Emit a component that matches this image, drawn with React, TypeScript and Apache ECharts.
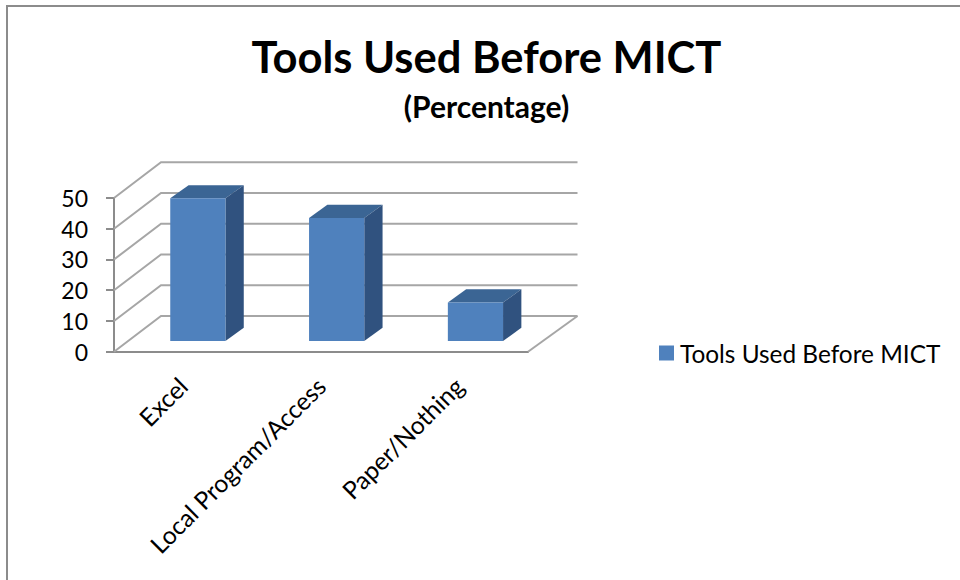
import React, { useEffect, useRef } from "react";
import * as echarts from "echarts";

const titleText = "Tools Used Before MICT";
const subtitleText = "(Percentage)";
const seriesName = "Tools Used Before MICT";
const categories = ["Excel", "Local Program/Access", "Paper/Nothing"];
const values = [46.4, 40, 12.5];
const valueTicks = [0, 10, 20, 30, 40, 50];

const FONT = "Lato, 'Noto Sans', sans-serif";
const FRONT = "#4f81bd";
const TOP = "#3b6594";
const SIDE = "#30527f";
const AXIS = "#8c8c8c";
const GRID = "#a6a6a6";
const DX = 49.5;
const DY = -35.7;
const BAR_FRONT = 0.3;
const BAR_DEPTH = 0.37;

export default function App() {
  const ref = useRef<HTMLDivElement>(null);
  useEffect(() => {
    document.body.style.margin = "0";
    const chart = echarts.init(ref.current!, undefined, { renderer: "svg" });
    chart.setOption({
      animation: false,
      backgroundColor: "#ffffff",
      title: {
        text: titleText,
        subtext: subtitleText,
        left: 481.5,
        top: 29,
        textAlign: "center",
        itemGap: 13,
        textStyle: { fontFamily: FONT, fontWeight: 700, fontSize: 43.5, color: "#000" },
        subtextStyle: { fontFamily: FONT, fontWeight: 700, fontSize: 30, color: "#000" },
      },
      legend: {
        data: [seriesName],
        left: 659,
        top: 341,
        itemWidth: 15,
        itemHeight: 15,
        itemGap: 0,
        icon: "rect",
        padding: 0,
        textStyle: { fontFamily: FONT, fontSize: 24.4, color: "#000", padding: [0, 0, 0, 1] },
      },
      grid: { left: 114, top: 198, width: 414, height: 153.7 },
      xAxis: {
        type: "category",
        data: categories,
        axisLine: { lineStyle: { color: AXIS, width: 2 } },
        axisTick: { length: 7, lineStyle: { color: AXIS, width: 2 } },
        axisLabel: {
          interval: 0,
          rotate: 45,
          margin: 30,
          fontFamily: FONT,
          fontSize: 24.6,
          color: "#000",
        },
      },
      yAxis: {
        type: "value",
        min: valueTicks[0],
        max: valueTicks[valueTicks.length - 1],
        interval: 10,
        splitLine: { show: false },
        axisLine: { show: true, lineStyle: { color: AXIS, width: 2 } },
        axisTick: { show: true, length: 8, lineStyle: { color: AXIS, width: 2 } },
        axisLabel: { margin: 26, fontFamily: FONT, fontSize: 23, color: "#000" },
      },
      series: [
        {
          type: "custom",
          name: "walls",
          silent: true,
          clip: false,
          z: 1,
          data: valueTicks.map((v) => [0, v]),
          encode: { x: 0, y: 1 },
          renderItem: (params: any, api: any) => {
            const cs = params.coordSys;
            const y = api.coord([0, api.value(1)])[1];
            const x0 = cs.x;
            const x1 = cs.x + cs.width;
            const children: any[] = [
              {
                type: "polyline",
                shape: {
                  points: [
                    [x0, y],
                    [x0 + 47, y + DY],
                    [x1 + DX, y + DY],
                  ],
                },
                style: { fill: "none", stroke: GRID, lineWidth: 2 },
              },
            ];
            if (api.value(1) === 0) {
              children.push({
                type: "line",
                shape: { x1, y1: y, x2: x1 + DX, y2: y + DY },
                style: { stroke: GRID, lineWidth: 2 },
              });
            }
            return { type: "group", children };
          },
        },
        {
          type: "custom",
          name: seriesName,
          clip: false,
          z: 2,
          itemStyle: { color: FRONT },
          data: values.map((v, i) => [i, v]),
          encode: { x: 0, y: 1 },
          renderItem: (_params: any, api: any) => {
            const top = api.coord([api.value(0), api.value(1)]);
            const base = api.coord([api.value(0), 0]);
            const w = api.size([1, 0])[0] * 0.4;
            const fx = top[0] - w / 2 + DX * BAR_FRONT + api.value(0) * 0.8;
            const fy = DY * BAR_FRONT;
            const l = fx;
            const r = fx + w;
            const t = top[1] + fy;
            const b = base[1] + fy;
            const ox = DX * BAR_DEPTH;
            const oy = DY * BAR_DEPTH;
            return {
              type: "group",
              children: [
                {
                  type: "polygon",
                  shape: { points: [[l, t], [r, t], [r + ox, t + oy], [l + ox, t + oy]] },
                  style: { fill: TOP },
                },
                {
                  type: "polygon",
                  shape: { points: [[r, t], [r + ox, t + oy], [r + ox, b + oy], [r, b]] },
                  style: { fill: SIDE },
                },
                {
                  type: "rect",
                  shape: { x: l, y: t, width: w, height: b - t },
                  style: { fill: FRONT },
                },
              ],
            };
          },
        },
      ],
      graphic: [
        {
          type: "rect",
          shape: { x: 7, y: 6, width: 980, height: 600 },
          style: { fill: "none", stroke: AXIS, lineWidth: 2 },
          silent: true,
        },
      ],
    });
    return () => chart.dispose();
  }, []);
  return <div ref={ref} style={{ width: 960, height: 580 }} />;
}
